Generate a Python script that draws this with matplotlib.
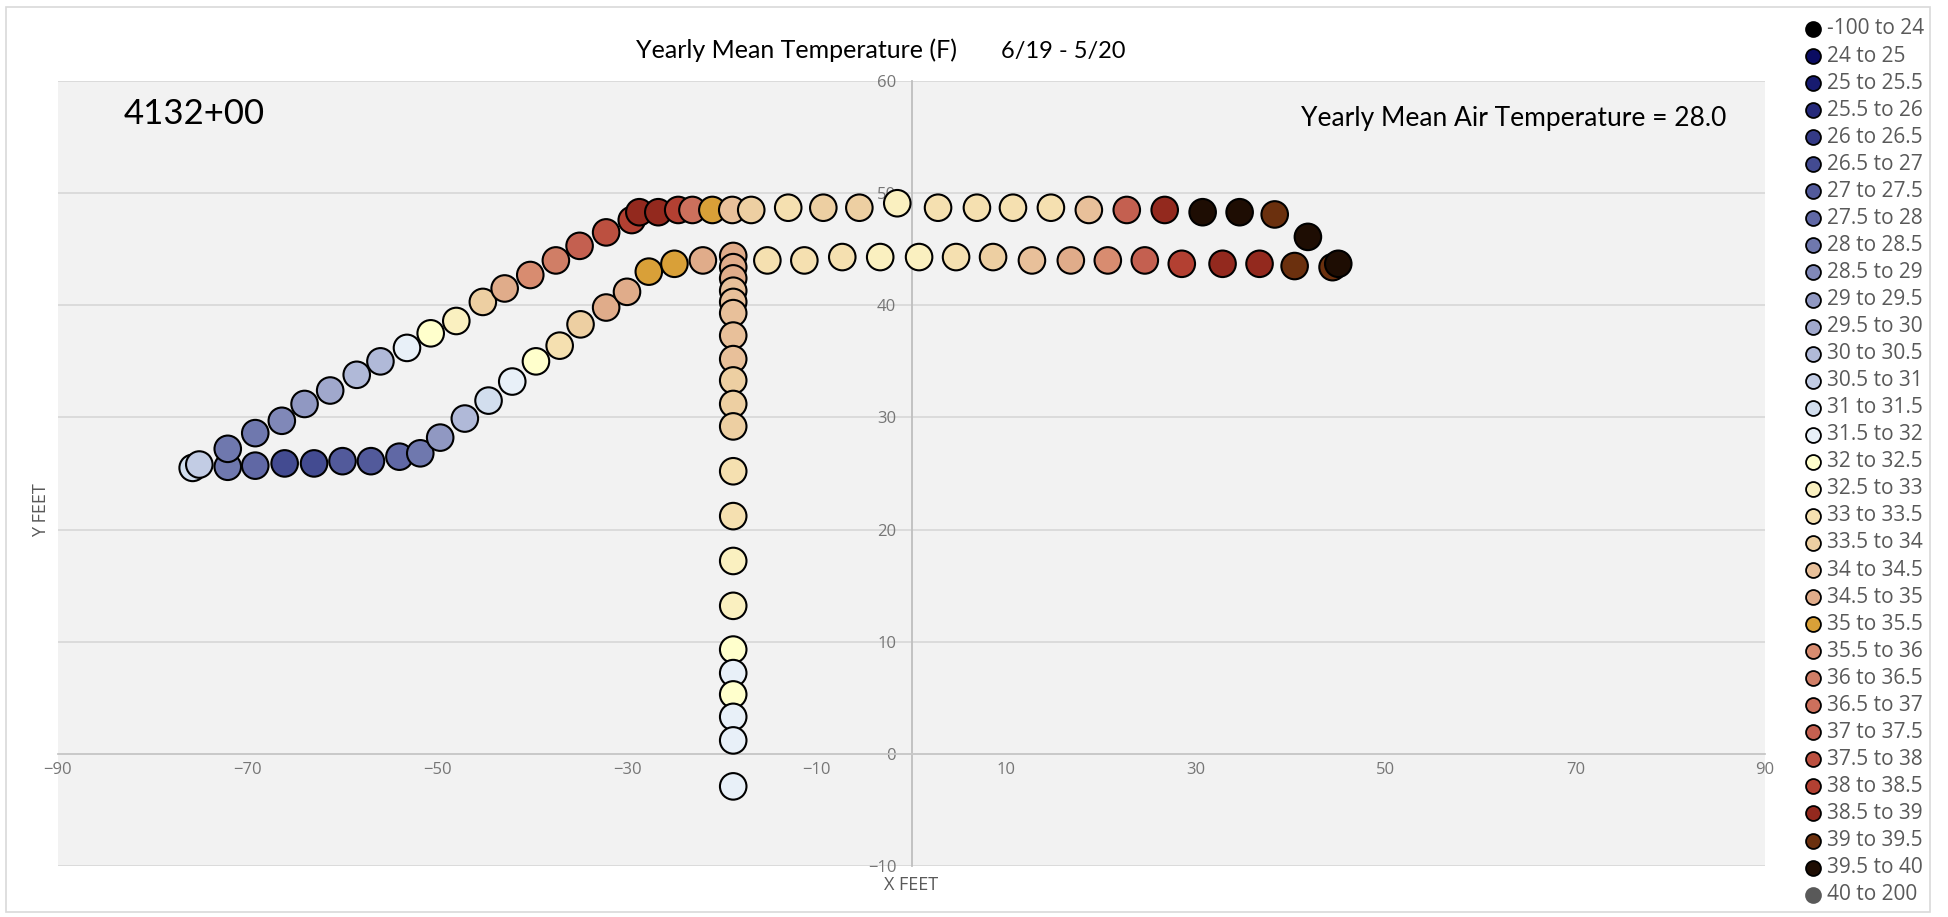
import numpy as np
import matplotlib.pyplot as plt
from matplotlib.patches import Rectangle

# temperature bins for the legend (deg F)
bin_edges = [-100, 24, 25, 25.5, 26, 26.5, 27, 27.5, 28, 28.5, 29, 29.5, 30, 30.5, 31, 31.5,
             32, 32.5, 33, 33.5, 34, 34.5, 35, 35.5, 36, 36.5, 37, 37.5, 38, 38.5, 39, 39.5, 40, 200]
bin_colors = ["#000000", "#0b0c62", "#171b70", "#25297a", "#343a86", "#434b91", "#525a9b", "#6068a5",
              "#6f78ae", "#8088b8", "#9098c2", "#a0a8cc", "#b0b9d8", "#c2cce4", "#d2deee", "#e8f0f8",
              "#ffffcc", "#faf0c0", "#f5e0b0", "#edcfa2", "#e8c09a", "#e0ac8a", "#d9a038", "#d88c70",
              "#d07e66", "#cc705c", "#c46050", "#bc5040", "#b34032", "#93291e", "#6b300e", "#1e0d03",
              "#595959"]

# outer (upper) sensor string
upper_x = [-75.1, -72.1, -69.2, -66.4, -64.0, -61.3, -58.5, -56.0, -53.2, -50.7, -48.0, -45.2, -42.9,
           -40.2, -37.5, -35.0, -32.2, -29.5, -28.7, -26.7, -24.6, -23.1, -21.0, -18.9, -16.9, -13.0,
           -9.3, -5.5, -1.5, 2.8, 6.9, 10.7, 14.7, 18.7, 22.7, 26.7, 30.7, 34.6, 38.3, 41.8, 45.0]
upper_y = [25.8, 27.2, 28.6, 29.7, 31.2, 32.4, 33.8, 35.0, 36.2, 37.5, 38.6, 40.3, 41.5, 42.7, 44.0,
           45.3, 46.5, 47.6, 48.3, 48.3, 48.5, 48.5, 48.5, 48.5, 48.5, 48.7, 48.7, 48.7, 49.1, 48.7,
           48.7, 48.7, 48.7, 48.5, 48.5, 48.5, 48.3, 48.3, 48.1, 46.1, 43.7]
upper_t = [30.8, 28.2, 28.3, 28.7, 29.2, 29.7, 30.2, 30.3, 31.7, 32.2, 32.7, 33.7, 34.7, 35.7, 36.2,
           37.2, 37.7, 38.2, 38.7, 38.7, 38.2, 36.7, 35.2, 34.2, 33.7, 33.2, 33.7, 33.7, 32.7, 33.2,
           33.2, 33.2, 33.2, 34.2, 37.2, 38.7, 39.7, 39.7, 39.2, 39.7, 39.7]

# inner (lower) sensor string
lower_x = [-75.8, -72.1, -69.2, -66.1, -63.0, -60.0, -57.0, -54.0, -51.8, -49.7, -47.1, -44.6, -42.1,
           -39.6, -37.1, -34.9, -32.2, -30.0, -27.7, -25.0, -22.0, -15.2, -11.3, -7.3, -3.3, 0.8, 4.7,
           8.6, 12.7, 16.8, 20.7, 24.6, 28.5, 32.8, 36.7, 40.4, 44.4]
lower_y = [25.5, 25.6, 25.7, 25.9, 25.9, 26.1, 26.1, 26.5, 26.8, 28.2, 29.9, 31.5, 33.2, 35.0, 36.4,
           38.3, 39.8, 41.2, 43.0, 43.7, 44.0, 44.0, 44.0, 44.3, 44.3, 44.3, 44.3, 44.3, 44.0, 44.0,
           44.0, 44.0, 43.7, 43.7, 43.7, 43.5, 43.4]
lower_t = [31.2, 28.2, 27.7, 26.7, 26.7, 27.2, 27.2, 27.7, 28.3, 29.2, 30.2, 31.2, 31.7, 32.2, 33.2,
           33.7, 34.7, 34.7, 35.2, 35.2, 34.7, 33.2, 33.2, 33.2, 32.7, 32.7, 33.2, 33.7, 34.2, 34.7,
           35.7, 37.2, 38.2, 38.7, 38.7, 39.2, 39.2]

# vertical string
col_x = -18.8
col_y = [44.4, 43.4, 42.4, 41.3, 40.3, 39.3, 37.3, 35.2, 33.3, 31.2, 29.2, 25.2, 21.2, 17.2, 13.2,
         9.3, 7.2, 5.3, 3.3, 1.2, -2.9]
col_t = [34.7, 34.7, 34.7, 34.2, 34.2, 34.2, 34.2, 34.2, 33.7, 33.7, 33.7, 33.2, 33.2, 32.7, 32.7,
         32.2, 31.7, 32.2, 31.7, 31.7, 31.7]

air_temp = 28.0
station = "4132+00"


def bin_color(t):
    i = np.searchsorted(bin_edges, t, side="right") - 1
    return bin_colors[i]


def fmt(v):
    return f"{v:g}"


W, H = 1949, 917
fig = plt.figure(figsize=(W / 100, H / 100), dpi=100)

ax = fig.add_axes([58 / W, 1 - 866 / H, 1707 / W, 785 / H])
ax.set_facecolor("#f2f2f2")
ax.set_xlim(-90, 90)
ax.set_ylim(-10, 60)
ax.set_xticks(np.arange(-90, 91, 20))
ax.set_yticks(np.arange(-10, 61, 10))
ax.grid(axis="y", color="#d9d9d9", lw=1.3)
ax.set_axisbelow(True)
for s in ["top", "right"]:
    ax.spines[s].set_visible(False)
ax.spines["left"].set_position(("data", 0))
ax.spines["bottom"].set_position(("data", 0))
ax.spines["left"].set_color("#bfbfbf")
ax.spines["bottom"].set_color("#c8c8c8")
ax.spines["left"].set_linewidth(1.3)
ax.spines["bottom"].set_linewidth(1.3)
ax.tick_params(axis="both", length=0, labelsize=12, labelcolor="#767676")
ax.tick_params(axis="y", pad=11)
ax.tick_params(axis="x", pad=6)
for lab in ax.get_xticklabels() + ax.get_yticklabels():
    lab.set_fontfamily("Open Sans")

ms = 365
ax.scatter(lower_x, lower_y, s=ms, c=[bin_color(t) for t in lower_t], edgecolors="black",
           linewidths=1.5, zorder=3, clip_on=False)
ax.scatter(upper_x, upper_y, s=ms, c=[bin_color(t) for t in upper_t], edgecolors="black",
           linewidths=1.5, zorder=3, clip_on=False)
ax.scatter([col_x] * len(col_y), col_y, s=ms, c=[bin_color(t) for t in col_t], edgecolors="black",
           linewidths=1.5, zorder=3, clip_on=False)

# overlay in pixel coords on top: border, texts and legend
ov = fig.add_axes([0, 0, 1, 1])
ov.set_xlim(0, W)
ov.set_ylim(H, 0)
ov.axis("off")
ov.add_patch(Rectangle((6, 7), 1924, 905, facecolor="none", edgecolor="#d9d9d9", lw=1.2))

ov.text(636, 58, "Yearly Mean Temperature (F)", fontsize=18, family="Lato", color="black",
        ha="left", va="baseline")
ov.text(1001, 58, "6/19 - 5/20", fontsize=17, family="Lato", color="black", ha="left", va="baseline")
ov.text(124, 124, station, fontsize=25, family="Lato", color="black", ha="left", va="baseline")
ov.text(1301, 126, f"Yearly Mean Air Temperature = {air_temp:.1f}", fontsize=19, family="Lato",
        color="black", ha="left", va="baseline")
ov.text(41, 510, "Y FEET", fontsize=13, family="Open Sans", color="#595959", rotation=90,
        ha="center", va="center")
ov.text(911, 885, "X FEET", fontsize=13, family="Open Sans", color="#595959", ha="center", va="center")

# legend
labels = [f"{fmt(a)} to {fmt(b)}" for a, b in zip(bin_edges[:-1], bin_edges[1:])]
for i, (lab, col) in enumerate(zip(labels, bin_colors)):
    yy = 29 + 27.05 * i
    ec = "#595959" if i == len(labels) - 1 else "black"
    ov.scatter([1813], [yy], s=115, c=[col], edgecolors=ec, linewidths=1.3)
    ov.text(1827, yy, lab, fontsize=15, family="Open Sans", color="#595959", ha="left", va="center")

fig.savefig("out.png", dpi=100)
